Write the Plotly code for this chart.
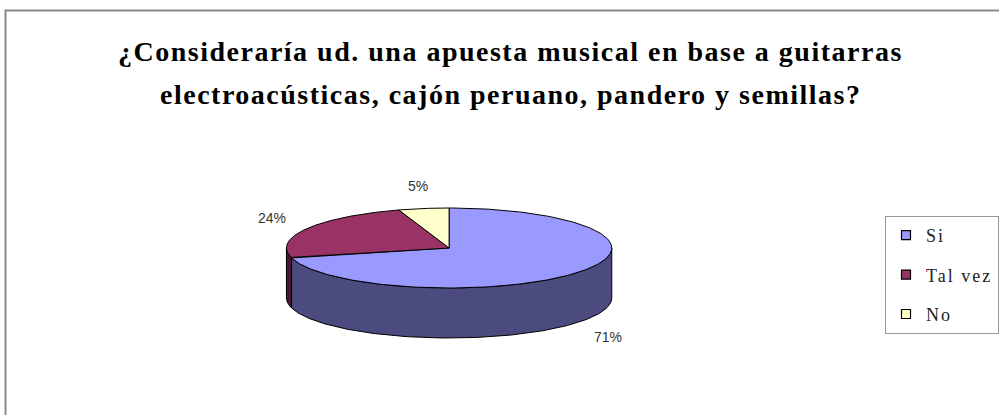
import numpy as np
import plotly.graph_objects as go

# Survey answers (percent of respondents)
categories = ["Si", "Tal vez", "No"]
values = [71, 24, 5]
top_colors = ["#9999FF", "#993366", "#FFFFCC"]
side_colors = ["#4B4B80", "#4A1530", "#8C8C66"]

title_lines = ["¿Consideraría ud. una apuesta musical en base a guitarras",
               "electroacústicas, cajón peruano, pandero y semillas?"]

# Geometry of the tilted pie (pixel-like axis units)
CX, CY = 450.0, 248.0
RX, RY = 163.0, 40.0
DEPTH = 50.0
LBL_RX, LBL_RY = 202.0, 63.0

W, H = 999, 415
SERIF = "Liberation Serif, Times New Roman, serif"


def ell(t, dy=0.0):
    return CX + RX * np.cos(t), CY - RY * np.sin(t) + dy


def spaced(s, px):
    return f'<span style="letter-spacing:{px}px">{s}</span>'


total = float(sum(values))
fracs = [v / total for v in values]
# slices run clockwise from 12 o'clock
starts, ends = [], []
acc = 0.0
for f in fracs:
    a0 = np.pi / 2 - 2 * np.pi * acc
    acc += f
    a1 = np.pi / 2 - 2 * np.pi * acc
    starts.append(a0)
    ends.append(a1)

fig = go.Figure()

# front side walls (visible half: angles between -pi and 0)
for i, (a0, a1) in enumerate(zip(starts, ends)):
    segs = []
    for shift in (0.0, 2 * np.pi, -2 * np.pi):
        h, l = a0 + shift, a1 + shift
        h2, l2 = min(h, 0.0), max(l, -np.pi)
        if h2 > l2:
            segs.append((h2, l2))
    for h, l in segs:
        t = np.linspace(h, l, 120)
        xt, yt = ell(t)
        xb, yb = ell(t[::-1], DEPTH)
        xs = np.concatenate([xt, xb, xt[:1]])
        ys = np.concatenate([yt, yb, yt[:1]])
        fig.add_trace(go.Scatter(
            x=xs, y=ys, mode="lines", fill="toself",
            fillcolor=side_colors[i], line=dict(color="#000000", width=1),
            showlegend=False, hoverinfo="skip"))

# top face slices
for i, (a0, a1) in enumerate(zip(starts, ends)):
    t = np.linspace(a0, a1, 200)
    xa, ya = ell(t)
    xs = np.concatenate([[CX], xa, [CX]])
    ys = np.concatenate([[CY], ya, [CY]])
    fig.add_trace(go.Scatter(
        x=xs, y=ys, mode="lines", fill="toself",
        fillcolor=top_colors[i], line=dict(color="#000000", width=1),
        name=categories[i], showlegend=False,
        hovertemplate=f"{categories[i]}: {values[i]}%<extra></extra>"))

# legend entries
for i, c in enumerate(categories):
    fig.add_trace(go.Scatter(
        x=[None], y=[None], mode="markers", name=spaced(c, 2), legendgroup=c,
        marker=dict(symbol="square", size=9, color=top_colors[i],
                    line=dict(color="#000000", width=1.2))))

# percentage labels outside each slice
for i, (a0, a1) in enumerate(zip(starts, ends)):
    m = (a0 + a1) / 2
    lx = CX + LBL_RX * np.cos(m)
    ly = CY - LBL_RY * np.sin(m) + (DEPTH if np.sin(m) < 0 else 0.0)
    fig.add_annotation(
        x=lx, y=ly, xref="x", yref="y", text=f"{values[i]:.0f}%",
        showarrow=False, font=dict(family="Liberation Sans", size=14, color="#333333"))

# chart title, one annotation per line
for line, ypx in zip(title_lines, (52, 95)):
    fig.add_annotation(
        x=0.512, y=1 - ypx / H, xref="paper", yref="paper",
        xanchor="center", yanchor="middle", showarrow=False,
        text=f"<b>{spaced(line, 1.5)}</b>",
        font=dict(family=SERIF, size=28, color="#000000"))

# chart frame
fig.add_shape(type="rect", xref="paper", yref="paper",
              x0=5.5 / W, x1=1.02, y0=-0.05, y1=1 - 10.5 / H,
              line=dict(color="#8a8a8a", width=2), layer="below")

fig.update_layout(
    width=W, height=H,
    margin=dict(l=0, r=0, t=0, b=0),
    paper_bgcolor="white", plot_bgcolor="white",
    xaxis=dict(range=[0, W], visible=False, fixedrange=True),
    yaxis=dict(range=[H, 0], visible=False, fixedrange=True),
    legend=dict(x=887 / W, y=1 - 216 / H, xanchor="left", yanchor="top",
                bordercolor="#999999", borderwidth=1, bgcolor="white",
                font=dict(family=SERIF, size=18, color="#222222"),
                tracegroupgap=13, traceorder="grouped"),
    showlegend=True,
)

fig.write_html("out.html")
